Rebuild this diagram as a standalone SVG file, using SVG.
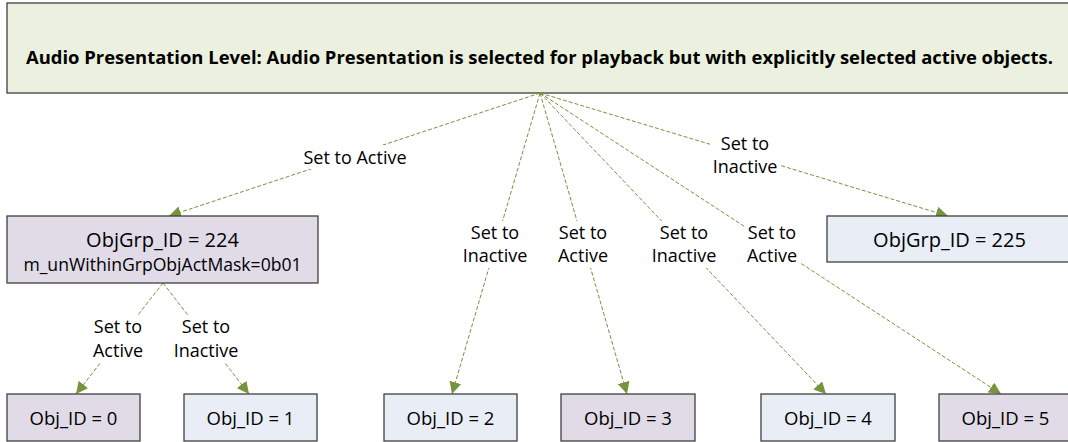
<svg xmlns="http://www.w3.org/2000/svg" width="1068" height="442" viewBox="0 0 1068 442">
  <style>
    .box { stroke: #404040; stroke-width: 1.3; }
    .top { fill: #ebf1de; }
    .lav { fill: #e1dbe8; }
    .blu { fill: #e9eef6; }
    .t { font-family: "Open Sans", "Liberation Sans", sans-serif; fill: #000; text-anchor: middle; }
    .title { font-size: 18.5px; font-weight: bold; }
    .lbl { font-size: 18px; }
    .obj { font-size: 18.5px; }
    .conn { stroke: #77933c; stroke-width: 1; stroke-dasharray: 4 2; fill: none; marker-end: url(#arr); }
    .bg { fill: #fff; }
  </style>
  <defs>
    <marker id="arr" markerUnits="userSpaceOnUse" markerWidth="13" markerHeight="12" refX="12" refY="6" orient="auto">
      <path d="M0,0 L12,6 L0,12 z" fill="#77933c"/>
    </marker>
  </defs>
  <rect width="1068" height="442" fill="#fff"/>

  <g id="top">
    <rect class="box top" x="7" y="3" width="1065" height="90"/>
    <text class="t title" x="539.5" y="64" textLength="1027" lengthAdjust="spacingAndGlyphs">Audio Presentation Level: Audio Presentation is selected for playback but with explicitly selected active objects.</text>
  </g>

  <g id="connectors">
    <line class="conn" x1="540" y1="93" x2="169" y2="216"/>
    <line class="conn" x1="540" y1="93" x2="948" y2="216"/>
    <line class="conn" x1="540" y1="93" x2="452" y2="394"/>
    <line class="conn" x1="540" y1="93" x2="627" y2="394"/>
    <line class="conn" x1="540" y1="93" x2="826" y2="394"/>
    <line class="conn" x1="540" y1="93" x2="1001" y2="394"/>
    <line class="conn" x1="163" y1="283" x2="76" y2="394"/>
    <line class="conn" x1="163" y1="283" x2="249" y2="394"/>

    <rect class="bg" x="297" y="145" width="116" height="24"/>
    <text class="t lbl" x="355" y="164">Set to Active</text>

    <rect class="bg" x="710" y="131" width="70" height="48"/>
    <text class="t lbl" x="745" y="150">Set to</text>
    <text class="t lbl" x="745" y="173">Inactive</text>

    <rect class="bg" x="460" y="221" width="70" height="47"/>
    <text class="t lbl" x="495" y="239">Set to</text>
    <text class="t lbl" x="495" y="262">Inactive</text>

    <rect class="bg" x="555" y="221" width="56" height="47"/>
    <text class="t lbl" x="583" y="239">Set to</text>
    <text class="t lbl" x="583" y="262">Active</text>

    <rect class="bg" x="649" y="221" width="70" height="47"/>
    <text class="t lbl" x="684" y="239">Set to</text>
    <text class="t lbl" x="684" y="262">Inactive</text>

    <rect class="bg" x="744" y="221" width="56" height="47"/>
    <text class="t lbl" x="772" y="239">Set to</text>
    <text class="t lbl" x="772" y="262">Active</text>

    <rect class="bg" x="90" y="315" width="56" height="47"/>
    <text class="t lbl" x="118" y="333">Set to</text>
    <text class="t lbl" x="118" y="357">Active</text>

    <rect class="bg" x="171" y="315" width="70" height="47"/>
    <text class="t lbl" x="206" y="333">Set to</text>
    <text class="t lbl" x="206" y="357">Inactive</text>
  </g>

  <g id="grp224">
    <rect class="box lav" x="7" y="216" width="311" height="67"/>
    <text class="t" x="162.5" y="247" font-size="20">ObjGrp_ID = 224</text>
    <text class="t" x="162.5" y="271" font-size="17.6">m_unWithinGrpObjActMask=0b01</text>
  </g>

  <g id="grp225">
    <rect class="box blu" x="827" y="216" width="245" height="46"/>
    <text class="t" x="949.5" y="247" font-size="20">ObjGrp_ID = 225</text>
  </g>

  <g id="obj0">
    <rect class="box lav" x="7" y="394" width="133" height="47"/>
    <text class="t obj" x="73.5" y="425">Obj_ID = 0</text>
  </g>
  <g id="obj1">
    <rect class="box blu" x="184" y="394" width="133" height="47"/>
    <text class="t obj" x="250.5" y="425">Obj_ID = 1</text>
  </g>
  <g id="obj2">
    <rect class="box blu" x="384" y="394" width="133" height="47"/>
    <text class="t obj" x="450.5" y="425">Obj_ID = 2</text>
  </g>
  <g id="obj3">
    <rect class="box lav" x="561" y="394" width="134" height="47"/>
    <text class="t obj" x="628" y="425">Obj_ID = 3</text>
  </g>
  <g id="obj4">
    <rect class="box blu" x="761" y="394" width="134" height="47"/>
    <text class="t obj" x="828" y="425">Obj_ID = 4</text>
  </g>
  <g id="obj5">
    <rect class="box lav" x="939" y="394" width="133" height="47"/>
    <text class="t obj" x="1005.5" y="425">Obj_ID = 5</text>
  </g>
</svg>
